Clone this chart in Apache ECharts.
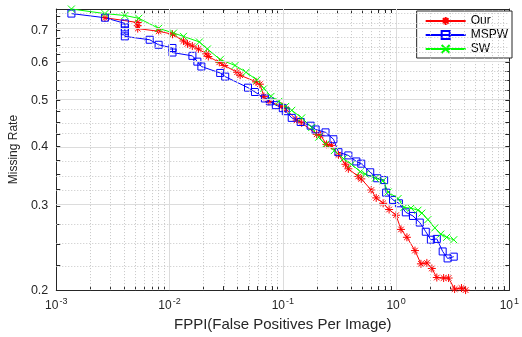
<!DOCTYPE html>
<html><head><meta charset="utf-8">
<script src="https://cdn.jsdelivr.net/npm/echarts@6/dist/echarts.min.js"></script>
<style>html,body{margin:0;padding:0;background:#fff}#c{width:522px;height:337px}</style>
</head><body><div id="c"></div>
<script>
// ---- data (FPPI vs. missing rate) ----
const ourFppi = [0.00269,0.00524,0.00524,0.00524,0.00801,0.01062,0.01327,0.0144,0.0159,0.018,0.0211,0.022,0.0275,0.0304,0.0395,0.042,0.058,0.0628,0.0681,0.0754,0.098,0.1062,0.1327,0.1468,0.199,0.2156,0.243,0.269,0.310,0.357,0.379,0.464,0.493,0.604,0.668,0.769,0.868,1.00,1.106,1.247,1.469,1.658,1.87,2.07,2.29,2.63,2.91,3.29,3.78,4.11];
const ourMr = [0.744,0.727,0.716,0.706,0.697,0.687,0.665,0.656,0.649,0.640,0.625,0.617,0.600,0.591,0.572,0.564,0.546,0.540,0.509,0.497,0.485,0.479,0.454,0.448,0.424,0.422,0.404,0.402,0.384,0.367,0.359,0.346,0.342,0.324,0.312,0.304,0.295,0.287,0.268,0.258,0.242,0.227,0.228,0.222,0.2125,0.212,0.212,0.201,0.202,0.200];
const mspwFppi = [0.00136,0.00269,0.00403,0.00403,0.00403,0.00403,0.00668,0.00801,0.01062,0.01062,0.01592,0.01761,0.0191,0.0280,0.0310,0.0493,0.0568,0.0695,0.0770,0.0868,0.100,0.1062,0.1199,0.1439,0.1761,0.1948,0.2384,0.2803,0.310,0.379,0.446,0.493,0.5915,0.6815,0.785,0.817,0.94,1.06,1.22,1.41,1.62,1.83,2.03,2.29,2.58,2.85,3.23];
const mspwMr = [0.759,0.744,0.724,0.710,0.697,0.680,0.669,0.653,0.643,0.629,0.619,0.602,0.588,0.570,0.560,0.531,0.520,0.504,0.497,0.488,0.481,0.474,0.459,0.450,0.442,0.434,0.428,0.414,0.389,0.383,0.372,0.368,0.353,0.343,0.340,0.320,0.309,0.304,0.291,0.286,0.277,0.265,0.255,0.256,0.241,0.233,0.235];
const swFppi = [0.00136,0.00269,0.00403,0.00535,0.00801,0.01085,0.01327,0.01835,0.0216,0.028,0.0379,0.0474,0.059,0.068,0.0786,0.0922,0.106,0.120,0.147,0.180,0.207,0.238,0.285,0.343,0.403,0.484,0.535,0.655,0.769,0.851,1.041,1.174,1.354,1.561,1.69,1.91,2.20,2.48,2.80,3.23];
const swMr = [0.776,0.759,0.752,0.742,0.707,0.691,0.680,0.662,0.640,0.608,0.591,0.572,0.551,0.529,0.509,0.497,0.485,0.476,0.459,0.438,0.418,0.404,0.392,0.377,0.367,0.354,0.350,0.343,0.339,0.321,0.311,0.298,0.297,0.294,0.290,0.281,0.270,0.262,0.258,0.255];
const seriesNames = ['Our','MSPW','SW'];
const xDecades = [-3,-2,-1,0,1];            // tick labels 10^k
const yTickLabels = [0.2,0.3,0.4,0.5,0.6,0.7];
const xRange = [0.001, 10];
const yRange = [0.2, 0.776];

// ---- helpers ----
const L = Math.log10;
const toPts = (xs, ys) => xs.map((x, i) => [L(x), L(ys[i])]);
const xTickVals = [];
for (let k = -3; k <= 0; k++) for (let m = 1; m <= 9; m++) xTickVals.push(L(m * Math.pow(10, k)));
xTickVals.push(1);
const yTickVals = [];
for (let i = 0; i <= 23; i++) { const v = (200 + 25 * i) / 1000; if (v <= yRange[1]) yTickVals.push(L(v)); }
const yMajor = yTickLabels.map(L);

const AX = '#262626';
const FONT = 'Liberation Sans';
const majorGrid = {color: '#dcdcdc', width: 1, type: 'solid'};
const minorGrid = {color: '#c6c6c6', width: 1, type: [1, 2]};
const gridLines = [];
xTickVals.forEach(v => {
  if (v <= -3 + 1e-9 || v >= 1 - 1e-9) return;
  const major = Math.abs(v - Math.round(v)) < 1e-9;
  gridLines.push({xAxis: v, lineStyle: major ? majorGrid : minorGrid});
});
yTickVals.forEach(v => {
  if (v <= L(0.2) + 1e-9) return;
  const major = yMajor.some(m => Math.abs(m - v) < 1e-9);
  gridLines.push({yAxis: v, lineStyle: major ? majorGrid : minorGrid});
});

const asterisk = 'path://M5,0L5,10M0,5L10,5M1.5,1.5L8.5,8.5M1.5,8.5L8.5,1.5';
const cross = 'path://M0,0L10,10M0,10L10,0';

function mkSeries(name, pts, color, symbol, size) {
  return {
    name, type: 'line', data: pts, symbol, symbolSize: size, showAllSymbol: true,
    clip: false, animation: false,
    lineStyle: {color, width: 1},
    itemStyle: {color: 'rgba(0,0,0,0)', borderColor: color, borderWidth: 1},
    emphasis: {disabled: true}
  };
}

const xLabelFmt = v => '{a|10}{b|' + Math.round(v) + '}';
const hiddenAxisCommon = {
  axisLine: {show: true, onZero: false, lineStyle: {color: AX, width: 1}},
  axisLabel: {show: false}, splitLine: {show: false}
};

const chart = echarts.init(document.getElementById('c'), null, {renderer: 'canvas'});
chart.setOption({
  animation: false,
  backgroundColor: '#fff',
  textStyle: {fontFamily: FONT},
  grid: {left: 56, right: 10, top: 9, bottom: 40, containLabel: false},
  legend: {
    data: seriesNames, orient: 'vertical', right: 10, top: 11,
    itemWidth: 40, itemHeight: 10, itemGap: 2,
    padding: [4, 4, 3, 8],
    backgroundColor: '#fff', borderColor: AX, borderWidth: 1,
    textStyle: {fontFamily: FONT, fontSize: 12, color: '#000', lineHeight: 12}
  },
  xAxis: [{
    type: 'value', min: L(xRange[0]), max: L(xRange[1]), position: 'bottom',
    axisLine: {show: true, onZero: false, lineStyle: {color: AX, width: 1}},
    axisTick: {show: true, inside: true, length: 4, customValues: xTickVals, lineStyle: {color: AX}},
    axisLabel: {
      customValues: xDecades, formatter: xLabelFmt, margin: 7, color: AX,
      rich: {
        a: {fontFamily: FONT, fontSize: 12, color: AX},
        b: {fontFamily: FONT, fontSize: 9, color: AX, padding: [0, 0, 9, 1]}
      }
    },
    splitLine: {show: false},
    name: 'FPPI(False Positives Per Image)', nameLocation: 'middle', nameGap: 15,
    nameTextStyle: {fontFamily: FONT, fontSize: 15, color: AX}
  }, Object.assign({
    type: 'value', min: L(xRange[0]), max: L(xRange[1]), position: 'top',
    axisTick: {show: true, inside: true, length: 4, customValues: xTickVals, lineStyle: {color: AX}}
  }, hiddenAxisCommon)],
  yAxis: [{
    type: 'value', min: L(yRange[0]), max: L(yRange[1]), position: 'left',
    axisLine: {show: true, onZero: false, lineStyle: {color: AX, width: 1}},
    axisTick: {show: true, inside: true, length: 4, customValues: yTickVals, lineStyle: {color: AX}},
    axisLabel: {
      customValues: yMajor, formatter: v => Math.pow(10, v).toFixed(1),
      margin: 8, color: AX, fontFamily: FONT, fontSize: 12.5
    },
    splitLine: {show: false},
    name: 'Missing Rate', nameLocation: 'middle', nameGap: 32, nameRotate: 90,
    nameTextStyle: {fontFamily: FONT, fontSize: 12, color: AX}
  }, Object.assign({
    type: 'value', min: L(yRange[0]), max: L(yRange[1]), position: 'right',
    axisTick: {show: true, inside: true, length: 4, customValues: yTickVals, lineStyle: {color: AX}}
  }, hiddenAxisCommon)],
  series: [
    {
      name: 'grid', type: 'line', data: [], silent: true, animation: false,
      markLine: {silent: true, symbol: ['none', 'none'], label: {show: false}, animation: false, data: gridLines}
    },
    mkSeries('Our', toPts(ourFppi, ourMr), '#ff0000', asterisk, 8),
    mkSeries('MSPW', toPts(mspwFppi, mspwMr), '#0000ff', 'rect', 7),
    mkSeries('SW', toPts(swFppi, swMr), '#00ff00', cross, 7)
  ]
});
</script>
</body></html>
